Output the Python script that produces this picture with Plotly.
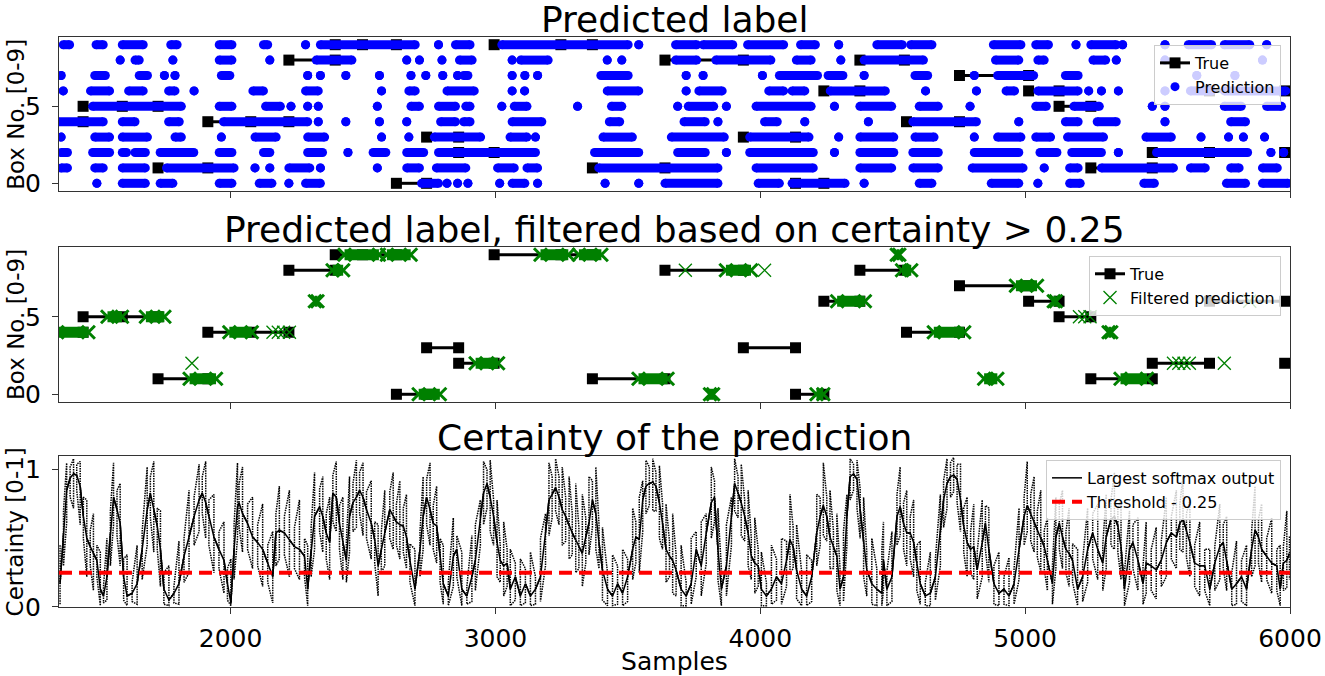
import plotly.graph_objects as go

# ---------------- true label (same in both label panels) ----------------
true_labels = [4, 5, 1, 4, 8, 9, 0, 3, 2, 9, 1, 8, 3, 0, 6, 8, 4, 7, 6, 5, 1, 2, 6, 2]
true_marks = [
    [1320, 1443], [1443, 1591, 1726], [1726, 1914], [1914, 2076, 2220],
    [2220, 2395], [2395, 2498, 2626], [2626, 2740], [2740, 2861],
    [2861, 2995], [2995, 3247, 3366], [3366, 3640], [3640, 3936],
    [3936, 4133], [4133, 4240], [4240, 4376], [4376, 4544],
    [4552, 4752], [4752, 5013], [5013, 5128], [5128, 5248],
    [5248, 5480], [5480, 5696], [5696, 5980], [5980, 6100],
]

# ---------------- raw predictions: runs of consecutive dots per box ----------------
pred_runs_9 = [(1368, 1392), (1492, 1519), (1591, 1670), (1774, 1798), (1957, 2005), (2124, 2140),
               (2283, 2283), (2339, 2697), (2785, 2785), (2849, 2904), (3024, 3501), (3541, 3541),
               (3680, 3760), (3784, 3896), (3952, 4088), (4152, 4208), (4296, 4296), (4440, 4536),
               (4568, 4648), (4880, 4984), (5040, 5088), (5192, 5192), (5248, 5344), (5368, 5368),
               (5528, 5528), (5616, 5704), (5752, 5848), (5912, 5912)]
pred_runs_8 = [(1583, 1583), (1639, 1655), (1782, 1782), (1957, 2005), (2148, 2148), (2323, 2458),
               (2665, 2665), (2713, 2713), (2798, 2798), (2864, 2912), (3063, 3063), (3095, 3199),
               (3422, 3422), (3477, 3477), (3680, 3760), (3832, 4040), (4136, 4192), (4304, 4304),
               (4392, 4616), (4888, 4976), (5048, 5072), (5256, 5304), (5344, 5344), (5528, 5528),
               (5896, 5896)]
pred_runs_7 = [(1360, 1360), (1487, 1527), (1655, 1686), (1750, 1750), (1790, 1790), (1965, 1997),
               (2291, 2291), (2339, 2339), (2435, 2435), (2562, 2562), (2681, 2681), (2737, 2737),
               (2801, 2801), (2857, 2857), (2880, 2896), (3063, 3063), (3111, 3111), (3159, 3159),
               (3398, 3501), (3720, 3720), (3784, 3784), (4008, 4008), (4072, 4216), (4256, 4312),
               (4392, 4392), (4584, 4632), (4808, 4808), (4896, 5032), (5152, 5200), (5648, 5648),
               (5792, 5792)]
pred_runs_6 = [(1368, 1368), (1471, 1543), (1615, 1670), (1766, 1790), (1862, 1862), (2084, 2124),
               (2283, 2331), (2570, 2570), (2673, 2697), (2817, 2920), (3063, 3063), (3110, 3110),
               (3422, 3541), (3720, 3720), (3768, 3856), (4032, 4088), (4120, 4168), (4264, 4472),
               (4624, 4624), (4816, 4816), (4928, 4960), (5048, 5200), (5240, 5240), (5288, 5288),
               (5352, 5352), (5528, 5528), (5624, 5704), (5752, 5984)]
pred_runs_5 = [(1479, 1814), (1957, 2005), (2132, 2188), (2228, 2228), (2291, 2291), (2331, 2331),
               (2554, 2554), (2681, 2713), (2785, 2849), (2888, 2904), (3024, 3024), (3071, 3119),
               (3310, 3310), (3438, 3477), (3688, 3688), (3728, 3824), (3872, 3872), (3984, 4192),
               (4280, 4280), (4376, 4496), (4600, 4672), (4792, 4792), (5040, 5080), (5184, 5280),
               (5480, 5480), (5528, 5528), (5752, 5816), (5912, 5968)]
pred_runs_4 = [(1345, 1519), (1591, 1639), (1766, 1806), (1973, 2291), (2331, 2331), (2435, 2435),
               (2562, 2562), (2665, 2665), (2793, 2849), (2880, 2904), (3063, 3175), (3430, 3469),
               (3712, 3792), (3840, 3840), (4016, 4064), (4168, 4168), (4408, 4408), (4576, 4816),
               (4976, 4976), (5152, 5200), (5272, 5344), (5528, 5528), (5776, 5832)]
pred_runs_3 = [(1360, 1360), (1487, 1543), (1591, 1686), (1790, 1814), (1965, 1965), (2092, 2172),
               (2291, 2355), (2570, 2570), (2673, 2673), (2769, 2944), (3055, 3119), (3151, 3151),
               (3406, 3517), (3664, 3864), (3960, 4184), (4296, 4296), (4376, 4504), (4584, 4656),
               (4808, 4808), (4896, 4984), (5040, 5096), (5160, 5296), (5456, 5552), (5664, 5664),
               (5768, 5768), (5824, 5824), (5904, 5904)]
pred_runs_2 = [(1360, 1384), (1479, 1543), (1591, 1607), (1639, 1678), (1734, 1861), (1957, 2005),
               (2124, 2148), (2291, 2347), (2443, 2443), (2538, 2586), (2665, 2729), (2785, 3151),
               (3374, 3541), (3688, 3792), (3872, 3872), (3960, 4200), (4280, 4280), (4376, 4504),
               (4576, 4672), (4808, 4976), (5056, 5120), (5176, 5288), (5352, 5352), (5496, 5840),
               (5928, 5928), (5976, 5976)]
pred_runs_1 = [(1360, 1384), (1487, 1519), (1591, 1678), (1758, 2013), (2092, 2092), (2148, 2148),
               (2220, 2299), (2339, 2339), (2554, 2554), (2665, 2713), (2777, 2888), (3008, 3071),
               (3119, 3159), (3390, 3840), (3984, 4200), (4376, 4496), (4576, 4672), (4800, 4992),
               (5072, 5072), (5168, 5200), (5288, 5560), (5624, 5680), (5776, 5808), (5896, 5952)]
pred_runs_0 = [(1495, 1495), (1591, 1678), (1734, 1782), (1957, 2005), (2108, 2156), (2220, 2220),
               (2283, 2339), (2721, 2785), (2817, 2817), (2857, 2857), (2896, 2896), (3016, 3016),
               (3063, 3111), (3159, 3159), (3414, 3414), (3541, 3541), (3640, 3840), (3992, 4072),
               (4120, 4320), (4392, 4392), (4600, 4648), (4872, 4976), (5048, 5048), (5168, 5208),
               (5448, 5488), (5760, 5832), (5896, 5992)]
pred_runs = {9: pred_runs_9, 8: pred_runs_8, 7: pred_runs_7, 6: pred_runs_6, 5: pred_runs_5,
             4: pred_runs_4, 3: pred_runs_3, 2: pred_runs_2, 1: pred_runs_1, 0: pred_runs_0}

# ---------------- filtered predictions (certainty > 0.25) ----------------
# dense runs of overlapping crosses: (box, first sample, last sample)
filt_runs = [(4, 1345, 1463), (5, 1535, 1590), (5, 1680, 1750), (1, 1845, 1945), (4, 1995, 2080),
             (6, 2318, 2328), (8, 2385, 2425), (9, 2430, 2560), (9, 2590, 2680), (0, 2710, 2790),
             (2, 2925, 3010), (9, 3170, 3275), (9, 3315, 3400), (1, 3540, 3650), (0, 3810, 3822),
             (8, 3870, 3965), (0, 4212, 4238), (6, 4290, 4395), (9, 4515, 4525), (8, 4535, 4570),
             (4, 4655, 4770), (1, 4845, 4895), (7, 4965, 5045), (6, 5108, 5116), (4, 5315, 5325),
             (1, 5360, 5460)]
# isolated crosses: (box, sample)
filt_single = [(2, 1854), (4, 2160), (4, 2180), (4, 2200), (4, 2222), (8, 3717), (8, 4016),
               (5, 5205), (5, 5225), (5, 5245), (2, 5560), (2, 5580), (2, 5600), (2, 5620),
               (2, 5752), (6, 5848)]

# ---------------- certainty (largest softmax output) ----------------
cert_x = [
    1356, 1369, 1381, 1394, 1407, 1419, 1432, 1444, 1457, 1470,
    1482, 1495, 1508, 1520, 1533, 1546, 1558, 1571, 1583, 1596,
    1609, 1628, 1647, 1666, 1685, 1697, 1710, 1723, 1735, 1748,
    1767, 1786, 1805, 1824, 1843, 1862, 1881, 1893, 1906, 1918,
    1937, 1956, 1975, 1988, 2001, 2013, 2026, 2032, 2045, 2064,
    2083, 2102, 2121, 2140, 2159, 2171, 2184, 2203, 2222, 2241,
    2260, 2279, 2291, 2304, 2317, 2336, 2348, 2361, 2374, 2386,
    2399, 2411, 2424, 2437, 2449, 2462, 2475, 2487, 2500, 2513,
    2531, 2544, 2557, 2569, 2582, 2601, 2614, 2626, 2639, 2652,
    2664, 2677, 2696, 2715, 2727, 2740, 2753, 2765, 2778, 2791,
    2803, 2822, 2841, 2854, 2873, 2892, 2911,
    2924, 2943, 2955, 2968, 2980, 2993, 3006, 3018, 3031, 3044,
    3056, 3075, 3094, 3113, 3132, 3151, 3170, 3189, 3202, 3214,
    3227, 3240, 3252, 3265, 3278, 3290, 3303, 3315, 3328, 3341,
    3353, 3366, 3379, 3391, 3404, 3423, 3442, 3461, 3480, 3499,
    3518, 3530, 3543, 3556, 3568, 3581, 3594, 3606, 3619, 3631,
    3644, 3657, 3669, 3682, 3701, 3720, 3739, 3758, 3777, 3796,
    3815, 3827, 3840, 3853, 3872, 3891, 3903, 3916, 3928, 3941,
    3954, 3966, 3979, 3992, 4004, 4023, 4042, 4061, 4080, 4099,
    4112, 4124, 4137, 4156, 4175, 4194, 4213, 4226, 4238, 4251,
    4263, 4276, 4289, 4301, 4314, 4327, 4339, 4352, 4365, 4377,
    4390, 4402, 4421, 4440, 4459,
    4465, 4478, 4497, 4516, 4528, 4541, 4553, 4566, 4579, 4591,
    4604, 4623, 4642, 4661, 4680, 4692, 4705, 4718, 4730, 4743,
    4756, 4768, 4781, 4794, 4806, 4819, 4838, 4850, 4863, 4882,
    4901, 4920, 4939, 4958, 4977, 4996, 5008, 5021, 5034, 5046,
    5059, 5072, 5084, 5103, 5116, 5129, 5141, 5154, 5166, 5179,
    5198, 5217, 5236, 5255, 5274, 5293, 5306, 5324, 5337, 5350,
    5362, 5375, 5394, 5407, 5426, 5445, 5457, 5476, 5495, 5514,
    5533, 5552, 5571, 5584, 5596, 5609, 5622, 5640, 5659, 5678,
    5697, 5716, 5735, 5748, 5761, 5780, 5798, 5817, 5836, 5855,
    5868, 5881, 5893, 5912, 5931, 5950, 5963, 5975, 5988, 5998,
]
cert_mean = [
    .17, .54, .85, .94, .97, .96, .88, .66, .50, .44,
    .39, .34, .13, .08, .22, .54, .80, .71, .61, .22,
    .08, .10, .17, .42, .71, .83, .71, .59, .42, .13,
    .05, .10, .17, .37, .51, .66, .78, .83, .76, .66,
    .51, .42, .34, .17, .03, .42, .73, .76, .68, .61,
    .51, .47, .42, .32, .22, .54, .56, .54, .49, .44,
    .42, .37, .13, .42, .66, .73, .66, .54, .47, .83,
    .80, .61, .47, .34, .66, .76, .80, .85, .80, .71,
    .61, .49, .30, .42, .54, .71, .66, .62, .60, .59,
    .51, .34, .13, .42, .66, .80, .71, .61, .59, .37,
    .17, .08, .37, .42, .13, .08, .22,
    .34, .66, .83, .90, .80, .66, .47, .34, .30, .32,
    .13, .22, .08, .17, .08, .13, .22, .54, .78, .82,
    .87, .80, .71, .66, .59, .54, .49, .44, .39, .51,
    .61, .78, .68, .47, .27, .13, .08, .17, .10, .22,
    .42, .51, .49, .78, .88, .90, .91, .88, .76, .61,
    .42, .37, .34, .27, .13, .08, .17, .42, .30, .54,
    .76, .80, .42, .13, .30, .66, .90, .83, .76, .66,
    .54, .37, .32, .30, .13, .08, .13, .22, .17, .34,
    .49, .44, .27, .13, .08, .22, .54, .66, .74, .66,
    .51, .44, .37, .13, .22, .66, .95, .97, .93, .71,
    .47, .27, .17, .13, .10,
    .34, .13, .22, .66, .73, .61, .54, .54, .47, .32,
    .17, .08, .10, .22, .54, .78, .90, .95, .96, .93,
    .78, .59, .47, .42, .44, .27, .47, .61, .42, .17,
    .10, .13, .08, .17, .42, .66, .74, .68, .62, .56,
    .51, .44, .34, .17, .51, .61, .51, .42, .39, .34,
    .13, .22, .42, .54, .42, .32, .51, .64, .66, .59,
    .44, .13, .42, .47, .34, .17, .32, .30, .27, .34,
    .47, .54, .51, .61, .64, .56, .47, .32, .30, .30,
    .13, .32, .44, .47, .34, .13, .17, .22, .13, .42,
    .56, .51, .42, .37, .32, .30, .13, .32, .34, .39,
]
cert_upper = [
    .45, .70, 1.05, 1.02, 1.08, 1.04, 1.06, .80, .78, .56,
    .68, .45, .40, .15, .50, .70, 1.05, .85, .90, .35,
    .38, .18, .45, .55, 1.02, .95, 1.06, .72, .70, .25,
    .30, .15, .48, .50, .85, .80, 1.04, .95, 1.06, .78,
    .82, .55, .62, .28, .35, .60, 1.05, .90, 1.02, .75,
    .80, .60, .75, .45, .55, .68, .88, .66, .85, .58,
    .78, .50, .45, .58, .98, .86, .95, .68, .80, .96,
    1.06, .74, .80, .48, .95, .90, 1.07, .98, 1.05, .84,
    .92, .62, .60, .55, .85, .84, .98, .75, .92, .72,
    .82, .46, .42, .55, .95, .93, 1.05, .74, .88, .50,
    .45, .18, .65, .52, .40, .15, .52,
    .60, .78, 1.06, 1.00, 1.07, .78, .78, .45, .62, .42,
    .42, .32, .35, .28, .40, .22, .50, .68, 1.05, .95,
    1.08, .95, 1.02, .80, .95, .68, .90, .58, .82, .65,
    .95, .92, 1.02, .60, .58, .25, .38, .30, .42, .35,
    .72, .62, .80, .92, 1.07, 1.02, 1.08, .98, 1.03, .75,
    .75, .48, .68, .38, .45, .18, .50, .55, .62, .68,
    1.02, .92, .72, .28, .60, .80, 1.08, .95, 1.04, .78,
    .85, .50, .65, .42, .40, .18, .45, .35, .50, .48,
    .82, .58, .60, .26, .38, .34, .82, .80, 1.05, .80,
    .85, .56, .68, .28, .55, .82, 1.08, 1.04, 1.07, .86,
    .80, .40, .50, .28, .42,
    .62, .26, .55, .82, 1.02, .76, .85, .66, .78, .45,
    .48, .18, .40, .35, .82, .92, 1.08, 1.05, 1.09, 1.04,
    1.04, .72, .80, .55, .75, .40, .78, .74, .72, .30,
    .40, .22, .36, .28, .72, .80, 1.06, .82, .95, .70,
    .85, .56, .65, .30, .80, .75, .85, .55, .72, .46,
    .42, .34, .72, .68, .75, .45, .82, .78, .98, .72,
    .78, .25, .70, .60, .65, .30, .62, .42, .58, .48,
    .80, .66, .85, .75, .95, .68, .78, .45, .62, .42,
    .42, .44, .75, .60, .66, .25, .48, .34, .45, .55,
    .88, .64, .75, .50, .65, .42, .45, .44, .70, .52,
]
cert_lower = [
    .02, .30, .62, .80, .72, .85, .60, .50, .22, .30,
    .12, .22, .01, .03, .05, .30, .60, .52, .30, .05,
    .01, .04, .02, .20, .45, .65, .40, .42, .15, .02,
    .01, .03, .02, .18, .25, .45, .55, .68, .50, .45,
    .25, .28, .10, .05, .01, .20, .50, .58, .40, .42,
    .28, .30, .15, .18, .03, .30, .35, .38, .22, .28,
    .20, .22, .01, .22, .42, .55, .40, .35, .20, .62,
    .55, .42, .20, .18, .40, .55, .58, .68, .52, .50,
    .35, .32, .08, .25, .30, .50, .42, .45, .35, .40,
    .28, .18, .01, .22, .42, .60, .45, .42, .32, .18,
    .02, .01, .15, .22, .01, .02, .04,
    .12, .45, .60, .72, .55, .45, .22, .18, .08, .15,
    .01, .05, .01, .03, .01, .02, .04, .30, .52, .65,
    .70, .60, .45, .48, .35, .38, .25, .28, .15, .32,
    .38, .58, .42, .28, .05, .01, .01, .02, .01, .04,
    .20, .32, .25, .55, .68, .74, .70, .70, .50, .42,
    .18, .22, .10, .08, .01, .01, .02, .22, .08, .32,
    .50, .62, .20, .01, .08, .45, .70, .65, .52, .48,
    .30, .20, .10, .15, .01, .01, .02, .05, .02, .15,
    .25, .28, .06, .01, .01, .04, .30, .45, .52, .48,
    .28, .28, .12, .01, .04, .45, .78, .85, .72, .50,
    .22, .08, .02, .01, .01,
    .12, .01, .04, .45, .52, .42, .30, .35, .22, .12,
    .02, .01, .01, .05, .30, .58, .72, .80, .84, .76,
    .55, .40, .22, .25, .20, .06, .22, .42, .18, .02,
    .01, .02, .01, .02, .20, .45, .55, .48, .40, .36,
    .26, .28, .12, .02, .28, .42, .28, .25, .15, .18,
    .01, .04, .18, .35, .20, .12, .28, .45, .42, .40,
    .20, .01, .18, .28, .12, .02, .10, .12, .06, .15,
    .22, .35, .28, .42, .40, .36, .22, .15, .08, .12,
    .01, .12, .20, .28, .12, .01, .02, .04, .01, .22,
    .30, .32, .18, .20, .10, .12, .01, .12, .14, .20,
]
threshold = 0.25
x_range = [1352, 6000]
x_ticks = [2000, 3000, 4000, 5000, 6000]

FONT = "DejaVu Sans"
BLUE, GREEN = "#0000ff", "#008000"

fig = go.Figure()


def true_trace(xa, ya, legend):
    xs, ys = [], []
    for lab, marks in zip(true_labels, true_marks):
        xs += marks + [None]
        ys += [lab] * len(marks) + [None]
    return go.Scatter(x=xs, y=ys, mode="lines+markers", name="True", legend=legend,
                      line=dict(color="black", width=3),
                      marker=dict(symbol="square", size=11, color="black"),
                      xaxis=xa, yaxis=ya)


# --- panel 1: predicted label ---
fig.add_trace(true_trace("x", "y", "legend"))
bx, by, mx, my = [], [], [], []
for lab, runs in pred_runs.items():
    for a, b in runs:
        bx += [a, b, None]
        by += [lab, lab, None]
        mx += [a, b]
        my += [lab, lab]
fig.add_trace(go.Scatter(x=bx, y=by, mode="lines", line=dict(color=BLUE, width=9),
                         showlegend=False, hoverinfo="skip", xaxis="x", yaxis="y"))
fig.add_trace(go.Scatter(x=mx, y=my, mode="markers", name="Prediction", legend="legend",
                         marker=dict(symbol="circle", size=9, color=BLUE),
                         xaxis="x", yaxis="y"))

# --- panel 2: filtered prediction ---
fig.add_trace(true_trace("x2", "y2", "legend2"))
gx, gy, ex, ey = [], [], [], []
for lab, a, b in filt_runs:
    gx += [a, b, None]
    gy += [lab, lab, None]
    ex += [a, b]
    ey += [lab, lab]
fig.add_trace(go.Scatter(x=gx, y=gy, mode="lines", line=dict(color=GREEN, width=11),
                         showlegend=False, hoverinfo="skip", xaxis="x2", yaxis="y2"))
fig.add_trace(go.Scatter(x=ex, y=ey, mode="markers", showlegend=False,
                         marker=dict(symbol="x-thin", size=13, line=dict(width=3, color=GREEN)),
                         xaxis="x2", yaxis="y2"))
fig.add_trace(go.Scatter(x=[s[1] for s in filt_single], y=[s[0] for s in filt_single],
                         mode="markers", name="Filtered prediction", legend="legend2",
                         marker=dict(symbol="x-thin", size=13, line=dict(width=1.3, color=GREEN)),
                         xaxis="x2", yaxis="y2"))

# --- panel 3: certainty ---
# the dotted spread lines are drawn as a dense hatch: each sample is a stroke
# between the spread value and the mean
n = min(len(cert_x), len(cert_mean), len(cert_upper), len(cert_lower))
for band in (cert_upper, cert_lower):
    hx, hy = [], []
    for i in range(n):
        hx += [cert_x[i], cert_x[i]]
        hy += [band[i], cert_mean[i]] if i % 2 == 0 else [cert_mean[i], band[i]]
    fig.add_trace(go.Scatter(x=hx, y=hy, mode="lines", showlegend=False,
                             line=dict(color="black", width=1.5, dash="1.5px,1px"),
                             hoverinfo="skip", xaxis="x3", yaxis="y3"))
fig.add_trace(go.Scatter(x=cert_x[:n], y=cert_mean[:n], mode="lines",
                         name="Largest softmax output", legend="legend3",
                         line=dict(color="black", width=1.5), xaxis="x3", yaxis="y3"))
fig.add_trace(go.Scatter(x=x_range, y=[threshold, threshold], mode="lines",
                         name="Threshold - 0.25", legend="legend3",
                         line=dict(color="#ff0000", width=4, dash="13px,7px"),
                         xaxis="x3", yaxis="y3"))

axis_common = dict(showline=True, mirror=True, linecolor="#333333", linewidth=1,
                   ticks="outside", ticklen=6, tickwidth=1, tickcolor="#333333",
                   showgrid=False, zeroline=False, automargin=False,
                   tickfont=dict(size=25, color="black"))
xa = dict(axis_common, range=x_range, tickvals=x_ticks, ticktext=[str(t) for t in x_ticks],
          ticklabelstandoff=3)
ya = dict(axis_common, ticklabelstandoff=6)
leg = dict(bgcolor="rgba(255,255,255,0.8)", bordercolor="#cccccc", borderwidth=1,
           font=dict(size=16, color="black", family=FONT), xanchor="right", yanchor="top",
           x=0.9927, tracegroupgap=2)

fig.update_layout(
    width=1325, height=676,
    margin=dict(l=59, r=35, t=37, b=69),
    paper_bgcolor="white", plot_bgcolor="white",
    font=dict(family=FONT, color="black"),
    xaxis=dict(xa, domain=[0, 1], anchor="y", showticklabels=False),
    xaxis2=dict(xa, domain=[0, 1], anchor="y2", showticklabels=False),
    xaxis3=dict(xa, domain=[0, 1], anchor="y3",
                title=dict(text="Samples", font=dict(size=25), standoff=0)),
    yaxis=dict(ya, domain=[0.7298, 1.0], range=[-0.5, 9.5], tickvals=[0, 5]),
    yaxis2=dict(ya, domain=[0.3596, 0.6316], range=[-0.5, 9.5], tickvals=[0, 5]),
    yaxis3=dict(ya, domain=[0, 0.2649], range=[0, 1.1], tickvals=[0, 1]),
    legend=dict(leg, y=0.986),
    legend2=dict(leg, y=0.616),
    legend3=dict(leg, y=0.258),
    showlegend=True,
)

titles = [("Predicted label", 1.030),
          ("Predicted label, filtered based on certainty > 0.25", 0.662),
          ("Certainty of the prediction", 0.297)]
for text, yp in titles:
    fig.add_annotation(text=text, x=0.5, y=yp, xref="paper", yref="paper",
                       xanchor="center", yanchor="middle", showarrow=False,
                       font=dict(size=36, color="black", family=FONT))

# y-axis labels, centred on each panel, left of the tick labels
ylabels = [("Box No. [0-9]", 0.865), ("Box No. [0-9]", 0.4965), ("Certainty [0-1]", 0.1325)]
for text, yp in ylabels:
    fig.add_annotation(text=text, x=-0.0350, y=yp, xref="paper", yref="paper",
                       xanchor="center", yanchor="middle", textangle=-90, showarrow=False,
                       borderpad=0, font=dict(size=23, color="black", family=FONT))

# drop the page's default body margin so the figure sits at the window's corner
fig.write_html("out.html", config={"displayModeBar": False},
               post_script="document.body.style.margin='0';")
